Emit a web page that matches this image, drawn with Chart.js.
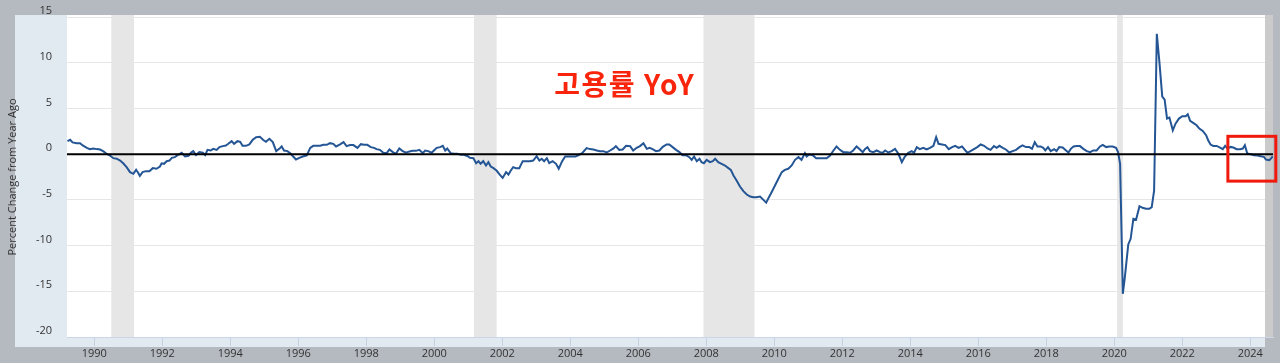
<!DOCTYPE html>
<html>
<head>
<meta charset="utf-8">
<script src="https://cdn.jsdelivr.net/npm/chart.js@4"></script>
<style>
  html, body { margin: 0; padding: 0; background: #b5b9c0; }
  canvas { display: block; }
</style>
</head>
<body>
<canvas id="chart" width="1280" height="363"></canvas>
<script>
// dates as decimal years, values = % change from a year ago
const dates = [
  1989.21, 1989.29, 1989.36, 1989.48, 1989.58, 1989.66, 1989.78, 1989.87, 1989.97,
  1990.07, 1990.17, 1990.27, 1990.36, 1990.46, 1990.56, 1990.66, 1990.76, 1990.85, 1990.95,
  1991.05, 1991.15, 1991.23, 1991.28, 1991.34, 1991.42, 1991.52, 1991.62, 1991.72, 1991.83, 1991.93, 1991.98,
  1992.05, 1992.13, 1992.21, 1992.28, 1992.37, 1992.47, 1992.57, 1992.67, 1992.77, 1992.84, 1992.91, 1992.99,
  1993.09, 1993.19, 1993.26, 1993.33, 1993.42, 1993.5, 1993.6, 1993.68, 1993.78, 1993.87, 1993.94,
  1994.04, 1994.11, 1994.21, 1994.29, 1994.36, 1994.46, 1994.56, 1994.66, 1994.76, 1994.87, 1994.97,
  1995.05, 1995.15, 1995.25, 1995.35, 1995.44, 1995.51, 1995.58, 1995.68, 1995.78, 1995.85, 1995.93,
  1996.03, 1996.13, 1996.25, 1996.35, 1996.44, 1996.54, 1996.64, 1996.74, 1996.84, 1996.93,
  1997.03, 1997.11, 1997.23, 1997.33, 1997.42, 1997.52, 1997.62, 1997.74, 1997.84, 1997.93,
  1998.03, 1998.13, 1998.23, 1998.3, 1998.4, 1998.5, 1998.6, 1998.68, 1998.78, 1998.87, 1998.97,
  1999.07, 1999.17, 1999.27, 1999.36, 1999.46, 1999.56, 1999.66, 1999.73, 1999.82, 1999.92, 1999.99,
  2000.07, 2000.17, 2000.25, 2000.32, 2000.38, 2000.48, 2000.58, 2000.68, 2000.78, 2000.87, 2000.97,
  2001.05, 2001.15, 2001.23, 2001.3, 2001.36, 2001.44, 2001.52, 2001.59, 2001.66, 2001.74, 2001.83, 2001.93,
  2002.01, 2002.11, 2002.18, 2002.25, 2002.32, 2002.4, 2002.5, 2002.6, 2002.7, 2002.81, 2002.91,
  2003.01, 2003.09, 2003.16, 2003.23, 2003.31, 2003.38, 2003.48, 2003.58, 2003.66, 2003.76, 2003.85, 2003.95,
  2004.05, 2004.15, 2004.25, 2004.36, 2004.48, 2004.58, 2004.68, 2004.78, 2004.87, 2004.97,
  2005.07, 2005.17, 2005.27, 2005.34, 2005.44, 2005.54, 2005.64, 2005.76, 2005.85, 2005.95,
  2006.05, 2006.15, 2006.25, 2006.33, 2006.42, 2006.52, 2006.62, 2006.72, 2006.83, 2006.91,
  2007.01, 2007.11, 2007.21, 2007.3, 2007.4, 2007.5, 2007.57, 2007.64, 2007.72, 2007.8, 2007.86, 2007.93,
  2008.01, 2008.11, 2008.19, 2008.26, 2008.35, 2008.45, 2008.55, 2008.65, 2008.72, 2008.8, 2008.89, 2008.99,
  2009.09, 2009.19, 2009.29, 2009.38, 2009.48, 2009.58, 2009.68, 2009.76, 2009.83, 2009.92,
  2010.02, 2010.12, 2010.22, 2010.31, 2010.41, 2010.51, 2010.61, 2010.71, 2010.8, 2010.9, 2010.95,
  2011.03, 2011.13, 2011.23, 2011.32, 2011.44, 2011.54, 2011.64, 2011.74, 2011.83, 2011.93,
  2012.03, 2012.13, 2012.23, 2012.32, 2012.42, 2012.52, 2012.6, 2012.67, 2012.74, 2012.81, 2012.91,
  2013.01, 2013.11, 2013.19, 2013.26, 2013.35, 2013.45, 2013.55, 2013.65, 2013.75, 2013.84, 2013.94,
  2014.04, 2014.11, 2014.19, 2014.28, 2014.38, 2014.48, 2014.58, 2014.68, 2014.76, 2014.83, 2014.93,
  2015.03, 2015.13, 2015.23, 2015.32, 2015.42, 2015.52, 2015.62, 2015.68, 2015.77, 2015.87, 2015.97,
  2016.07, 2016.17, 2016.27, 2016.36, 2016.46, 2016.54, 2016.62, 2016.72, 2016.81, 2016.91,
  2017.01, 2017.11, 2017.21, 2017.3, 2017.4, 2017.5, 2017.58, 2017.66, 2017.74, 2017.83, 2017.91, 2017.97,
  2018.05, 2018.13, 2018.23, 2018.3, 2018.38, 2018.48, 2018.58, 2018.65, 2018.72, 2018.8, 2018.89, 2018.99,
  2019.09, 2019.19, 2019.29, 2019.38, 2019.48, 2019.58, 2019.66, 2019.76, 2019.85, 2019.95,
  2020.05, 2020.11, 2020.17, 2020.25, 2020.31, 2020.41, 2020.48, 2020.56, 2020.64, 2020.74, 2020.83, 2020.93,
  2021.03, 2021.1, 2021.17, 2021.25, 2021.33, 2021.41, 2021.48, 2021.55, 2021.62, 2021.72, 2021.8, 2021.9,
  2022.0, 2022.1, 2022.16, 2022.23, 2022.32, 2022.42, 2022.5, 2022.6, 2022.7, 2022.76, 2022.83, 2022.91,
  2023.01, 2023.11, 2023.19, 2023.26, 2023.33, 2023.42, 2023.5, 2023.6, 2023.7, 2023.78, 2023.84, 2023.91,
  2024.01, 2024.11, 2024.21, 2024.3, 2024.4, 2024.46, 2024.56, 2024.63, 2024.66
];
const yoy = [
  1.42, 1.57, 1.28, 1.2, 1.2, 0.95, 0.69, 0.55, 0.62,
  0.55, 0.5, 0.3, 0.04, -0.15, -0.44, -0.5, -0.7, -1.0, -1.42,
  -1.97, -2.15, -1.7, -1.97, -2.37, -1.97, -1.86, -1.86, -1.53, -1.6, -1.35, -1.0,
  -1.06, -0.77, -0.7, -0.4, -0.33, -0.07, 0.15, -0.26, -0.18, 0.15, 0.33, -0.1,
  0.22, 0.15, -0.1, 0.47, 0.4, 0.58, 0.47, 0.77, 0.88, 0.95, 1.13,
  1.42, 1.13, 1.42, 1.35, 0.91, 0.91, 1.06, 1.57, 1.86, 1.9, 1.55,
  1.35, 1.68, 1.31, 0.33, 0.58, 0.84, 0.4, 0.33, 0.04, -0.26, -0.58,
  -0.4, -0.26, -0.15, 0.69, 0.91, 0.91, 0.91, 1.02, 1.02, 1.2,
  1.13, 0.84, 1.06, 1.31, 0.88, 0.99, 0.99, 0.69, 1.09, 1.02,
  1.02, 0.77, 0.69, 0.55, 0.47, 0.15, 0.11, 0.51, 0.22, 0.04, 0.62,
  0.33, 0.15, 0.3, 0.36, 0.36, 0.47, 0.11, 0.4, 0.33, 0.15, 0.4,
  0.69, 0.77, 0.91, 0.4, 0.62, 0.11, 0.04, 0.04, -0.07, -0.07, -0.2,
  -0.4, -0.44, -1.0, -0.77, -1.06, -0.77, -1.24, -0.88, -1.35, -1.53, -1.79, -2.26,
  -2.6, -1.97, -2.23, -1.79, -1.42, -1.53, -1.53, -0.77, -0.77, -0.77, -0.7,
  -0.22, -0.7, -0.51, -0.77, -0.44, -0.99, -0.77, -1.06, -1.6, -0.77, -0.26, -0.26,
  -0.26, -0.26, -0.11, 0.15, 0.66, 0.55, 0.51, 0.4, 0.33, 0.33,
  0.18, 0.4, 0.62, 0.88, 0.47, 0.51, 0.91, 0.88, 0.4, 0.69,
  0.88, 1.2, 0.58, 0.69, 0.55, 0.33, 0.4, 0.8, 1.06, 1.06,
  0.77, 0.47, 0.22, -0.11, -0.11, -0.33, -0.62, -0.26, -0.77, -0.51, -0.88, -0.99,
  -0.62, -0.88, -0.77, -0.51, -0.88, -1.06, -1.24, -1.53, -1.72, -2.34, -2.88, -3.54,
  -4.05, -4.42, -4.64, -4.71, -4.71, -4.64, -5.0, -5.3, -4.8, -4.16,
  -3.43, -2.7, -1.97, -1.72, -1.6, -1.24, -0.62, -0.33, -0.62, 0.11, -0.26,
  -0.04, -0.11, -0.44, -0.44, -0.44, -0.44, -0.15, 0.4, 0.84, 0.47,
  0.22, 0.22, 0.15, 0.4, 0.84, 0.5, 0.22, 0.58, 0.77, 0.33, 0.22,
  0.4, 0.22, 0.15, 0.4, 0.18, 0.33, 0.58, 0.04, -0.88, -0.26, 0.15,
  0.33, 0.15, 0.77, 0.55, 0.69, 0.51, 0.69, 0.91, 1.86, 1.13, 1.06,
  0.99, 0.55, 0.77, 0.91, 0.69, 0.84, 0.4, 0.15, 0.33, 0.55, 0.77,
  1.06, 0.91, 0.62, 0.47, 0.88, 0.69, 0.91, 0.69, 0.51, 0.18,
  0.33, 0.47, 0.77, 0.95, 0.77, 0.77, 0.58, 1.31, 0.84, 0.84, 0.69, 0.4,
  0.77, 0.33, 0.55, 0.33, 0.77, 0.72, 0.4, 0.18, 0.58, 0.84, 0.88, 0.88,
  0.58, 0.33, 0.22, 0.4, 0.4, 0.84, 1.02, 0.77, 0.84, 0.84,
  0.69, 0.22, -1.06, -15.28, -13.46, -9.88, -9.26, -7.08, -7.18, -5.69, -5.87, -5.98,
  -5.98, -5.8, -4.0, 13.17, 9.9, 6.3, 5.95, 3.9, 4.0, 2.61, 3.34, 3.89,
  4.15, 4.15, 4.37, 3.64, 3.42, 3.16, 2.8, 2.54, 2.07, 1.52, 1.05, 0.9,
  0.9, 0.72, 0.54, 0.9, 0.61, 0.79, 0.72, 0.54, 0.54, 0.61, 0.97, 0.06,
  -0.01, -0.12, -0.16, -0.23, -0.3, -0.59, -0.67, -0.38, -0.23
];
const yearTicks = [1990, 1992, 1994, 1996, 1998, 2000, 2002, 2004, 2006, 2008, 2010, 2012, 2014, 2016, 2018, 2020, 2022, 2024];
const valueTicks = [-20, -15, -10, -5, 0, 5, 10, 15];
const recessions = [[1990.5, 1991.167], [2001.167, 2001.833], [2007.917, 2009.417], [2020.083, 2020.25]];
const highlight = { from: 2023.34, to: 2024.75, top: 1.95, bottom: -2.95 };
const note = { text: '고용률 YoY', x: 2005.6, y: 7.6 };

const backdrop = {
  id: 'backdrop',
  beforeDraw(chart) {
    const c = chart.ctx, a = chart.chartArea;
    c.save();
    c.fillStyle = '#b5b9c0';
    c.fillRect(0, 0, chart.width, chart.height);
    c.fillStyle = '#e1e9f1';
    c.fillRect(15, 15, 1250, 332);
    c.fillStyle = '#ffffff';
    c.fillRect(a.left, 15, 1265 - a.left, a.bottom - 15);
    c.restore();
  },
  beforeDatasetsDraw(chart) {
    const c = chart.ctx, a = chart.chartArea, x = chart.scales.x;
    c.save();
    c.fillStyle = '#e6e6e6';
    recessions.forEach(([s, e]) => {
      const x0 = x.getPixelForValue(s), x1 = x.getPixelForValue(e);
      c.fillRect(x0, 15, x1 - x0, a.bottom - 15);
    });
    c.fillStyle = '#cbcbcb';
    c.fillRect(1265, 15, a.right - 1265, a.bottom - 15);
    c.restore();
  },
  afterDatasetsDraw(chart) {
    const c = chart.ctx, a = chart.chartArea;
    const y0 = chart.scales.y.getPixelForValue(0);
    c.save();
    c.strokeStyle = '#000';
    c.lineWidth = 2;
    c.beginPath();
    c.moveTo(a.left, y0);
    c.lineTo(a.right, y0);
    c.stroke();
    c.restore();
  },
  afterDraw(chart) {
    const c = chart.ctx, x = chart.scales.x, y = chart.scales.y;
    c.save();
    c.fillStyle = '#f8250c';
    c.font = 'bold 28px "Noto Sans CJK KR", "Noto Sans", sans-serif';
    c.letterSpacing = '1.5px';
    c.textAlign = 'center';
    c.textBaseline = 'middle';
    c.fillText(note.text, x.getPixelForValue(note.x), y.getPixelForValue(note.y));
    const bx0 = x.getPixelForValue(highlight.from), bx1 = x.getPixelForValue(highlight.to);
    const by0 = y.getPixelForValue(highlight.top), by1 = y.getPixelForValue(highlight.bottom);
    c.strokeStyle = '#f0190c';
    c.lineWidth = 3;
    c.strokeRect(bx0, by0, bx1 - bx0, by1 - by0);
    c.restore();
  }
};

new Chart(document.getElementById('chart'), {
  type: 'line',
  data: {
    datasets: [{
      data: dates.map((d, i) => ({ x: d, y: yoy[i] })),
      borderColor: '#245594',
      borderWidth: 2,
      pointRadius: 0,
      fill: false,
      tension: 0
    }]
  },
  options: {
    responsive: false,
    animation: false,
    devicePixelRatio: 1,
    events: [],
    layout: { padding: { top: 17, right: 7, bottom: 0, left: 0 } },
    plugins: { legend: { display: false }, tooltip: { enabled: false } },
    scales: {
      x: {
        type: 'linear',
        min: 1989.197,
        max: 2024.667,
        afterBuildTicks: s => { s.ticks = yearTicks.map(v => ({ value: v })); },
        afterFit: s => { s.height = 26; },
        grid: { drawOnChartArea: false, drawTicks: true, tickLength: 9, color: '#c5d1e3' },
        border: { display: true, color: '#ccd6eb' },
        ticks: {
          callback: v => String(v),
          color: '#333',
          font: { family: '"Open Sans", sans-serif', size: 11 },
          padding: 1,
          maxRotation: 0,
          autoSkip: false
        }
      },
      y: {
        min: -20,
        max: 15,
        afterBuildTicks: s => { s.ticks = valueTicks.map(v => ({ value: v })); },
        afterFit: s => { s.width = 67; s.paddingTop = 0; s.paddingBottom = 0; },
        grid: { color: '#e6e6e6', drawTicks: false },
        border: { display: false },
        ticks: {
          callback: v => String(v),
          color: '#333',
          font: { family: '"Open Sans", sans-serif', size: 11 },
          padding: 15,
          labelOffset: -6
        },
        title: {
          display: true,
          text: 'Percent Change from Year Ago',
          color: '#333',
          font: { family: '"Open Sans", sans-serif', size: 11 },
          padding: { top: 6, bottom: 0 }
        }
      }
    }
  },
  plugins: [backdrop]
});
</script>
</body>
</html>
